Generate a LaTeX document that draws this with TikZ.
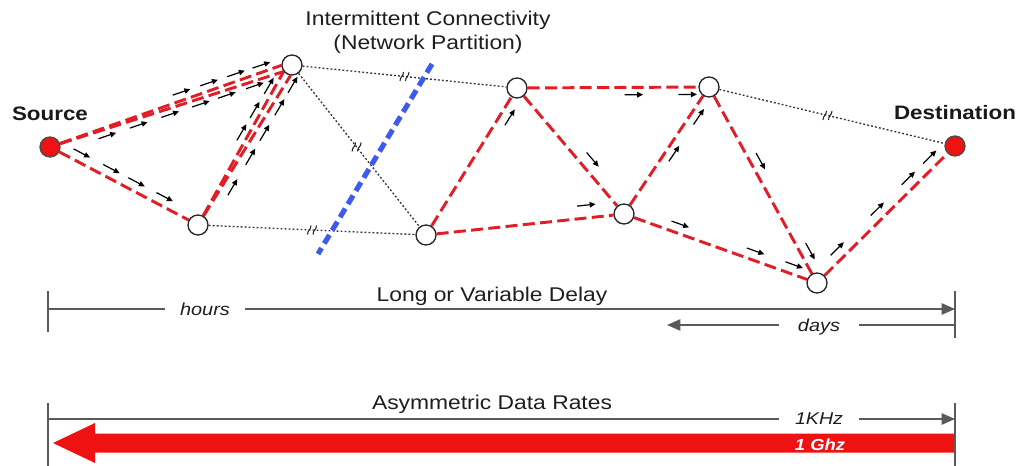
\documentclass[tikz,border=0pt]{standalone}
\usepackage{fontspec}
\setmainfont[FakeStretch=1.15]{Liberation Sans}
\usetikzlibrary{calc,arrows.meta}

\definecolor{linkred}{RGB}{225,30,38}
\definecolor{nodered}{RGB}{238,18,18}
\definecolor{cutblue}{RGB}{60,90,235}
\definecolor{axisgray}{RGB}{90,90,90}
\definecolor{labelink}{RGB}{30,30,30}

\pgfdeclarelayer{links}
\pgfsetlayers{links,main}

\tikzset{
  relay/.style={circle,draw=black!85,line width=1pt,fill=white,minimum size=15pt,inner sep=0pt},
  endpoint/.style={relay,fill=nodered,draw=black!70},
  hop/.style={draw=linkred,line width=2.2pt,dash pattern=on 9pt off 4pt},
  lost/.style={draw=black!80,line width=1pt,dash pattern=on 1.4pt off 1.6pt},
  flowtip/.style={-{Triangle[length=4.5pt,width=4pt]},line width=0.9pt,black},
  cutline/.style={draw=cutblue,line width=3.8pt,dash pattern=on 7.5pt off 4pt},
  timeline/.style={draw=axisgray,line width=1.1pt},
  timetip/.style={-{Triangle[length=10pt,width=8.5pt]},draw=axisgray},
  brk/.pic={\draw[black!85,line width=0.8pt] (-4.5,4.5) .. controls (-4.5,0) and (-1,0) .. (-1,-4.5)
                                           (1,4.5) .. controls (1,0) and (4.5,0) .. (4.5,-4.5);},
  lblbold/.style={font=\fontsize{14.6}{17}\selectfont\bfseries,text=black!90,inner sep=0pt},
  lblmain/.style={font=\fontsize{14.9}{17}\selectfont,text=labelink,inner sep=0pt},
  lblunit/.style={font=\fontsize{13}{15}\selectfont\itshape,text=labelink,fill=white,inner ysep=1pt},
}

% small traffic arrows beside a link: from, to, side offset, list of positions
\newcommand\flowmarks[4]{%
  \foreach \fr in {#4}{%
    \path ($(#1)!\fr!(#2)$) coordinate (fp);
    \path ($(fp)!#3!90:(#2)$) coordinate (fq);
    \path ($(#1)!14pt!(#2)$) coordinate (fu);
    \draw[flowtip] (fq) -- ($(fq)+(fu)-(#1)$);
  }}

\begin{document}
\begin{tikzpicture}[x=0.75pt,y=-0.75pt]
\useasboundingbox (0,0) rectangle (1020,466);

% network nodes
\node[endpoint] (S) at (50,147) {};
\node[relay] (A) at (198,225) {};
\node[relay] (B) at (292,65) {};
\node[relay] (C) at (426,235) {};
\node[relay] (D) at (517,88) {};
\node[relay] (E) at (624,214) {};
\node[relay] (F) at (709,87) {};
\node[relay] (G) at (817,283) {};
\node[endpoint] (T) at (955,146) {};

\begin{pgfonlayer}{links}
  % two paths into B that meet at the far end
  \draw[hop] (S) -- (B.182);
  \draw[hop] (S) -- (B.218);
  \draw[hop] (A) -- (B.218);
  \draw[hop] (A) -- (B.262);
  % single links
  \draw[hop] (S) -- (A);
  \draw[hop] (C) -- (D);
  \draw[hop] (C) -- (E);
  \draw[hop] (D) -- (E);
  \draw[hop] (D) -- (F);
  \draw[hop] (E) -- (F);
  \draw[hop] (E) -- (G);
  \draw[hop] (F) -- (G);
  \draw[hop] (G) -- (T);
  % broken links
  \draw[lost] (B) -- (D) coordinate[pos=0.5] (m1);
  \draw[lost] (B) -- (C) coordinate[pos=0.48] (m2);
  \draw[lost] (A) -- (C) coordinate[pos=0.5] (m3);
  \draw[lost] (F) -- (T) coordinate[pos=0.48] (m4);
\end{pgfonlayer}

\foreach \m in {m1,m2,m3,m4} \pic at (\m) {brk};

% partition line
\coordinate (cutTop) at (432,64);
\coordinate (cutBot) at (318,254);
\draw[cutline] (cutTop) -- (cutBot);

% traffic
\flowmarks{S}{B}{7.3pt}{0.52,0.634,0.745,0.85}
\flowmarks{S}{B}{-5.8pt}{0.19,0.32,0.45,0.577,0.684,0.80}
\flowmarks{S}{A}{7pt}{0.13,0.33,0.5,0.69}
\flowmarks{A}{B}{7pt}{0.5,0.64,0.79}
\flowmarks{A}{B}{-8pt}{0.22,0.41,0.56,0.72,0.86}
\flowmarks{C}{D}{-7pt}{0.78}
\flowmarks{D}{F}{-5.5pt}{0.56,0.84}
\flowmarks{D}{E}{8.5pt}{0.57}
\flowmarks{C}{E}{9.6pt}{0.77}
\flowmarks{E}{F}{-6pt}{0.45,0.74}
\flowmarks{E}{G}{7pt}{0.23,0.62,0.82}
\flowmarks{F}{G}{7pt}{0.36,0.82}
\flowmarks{G}{T}{7.5pt}{0.15,0.44,0.665,0.82}

% labels
\node[lblbold,anchor=base] (src) at (50,121) {Source};
\node[lblbold,anchor=base] (dst) at (955,120) {Destination};
\node[lblmain,anchor=base] (ic1) at (428,26) {Intermittent Connectivity};
\node[lblmain,anchor=base] (ic2) at (428,50) {(Network Partition)};

% delay scale
\coordinate (dL1) at (48,291);
\coordinate (dL2) at (48,332);
\coordinate (dR1) at (955,291);
\coordinate (dR2) at (955,338);
\coordinate (dStart) at (48,309);
\coordinate (dEnd) at (955,309);
\coordinate (dRight) at (955,325);
\coordinate (dTip) at (667,325);
\draw[timeline] (dL1) -- (dL2);
\draw[timeline] (dR1) -- (dR2);
\draw[timeline,timetip] (dStart) -- (dEnd);
\draw[timeline,timetip] (dRight) -- (dTip);
\node[lblunit,inner xsep=11pt] (hours) at (205,309) {hours};
\node[lblunit,inner xsep=14pt] (days) at (819,327) {days};
\node[lblmain,anchor=base] (lvd) at (492,302) {Long or Variable Delay};

% data rate scale
\fill[nodered] (955,433.5) -- (95,433.5) -- (95,423) -- (53,443) -- (95,463) -- (95,452.5) -- (955,452.5) -- cycle;
\coordinate (rL1) at (48,403);
\coordinate (rL2) at (48,466);
\coordinate (rR1) at (955,403);
\coordinate (rR2) at (955,466);
\coordinate (rStart) at (48,419);
\coordinate (rEnd) at (955,419);
\draw[timeline] (rL1) -- (rL2);
\draw[timeline] (rR1) -- (rR2);
\draw[timeline,timetip] (rStart) -- (rEnd);
\node[lblunit,inner xsep=12pt,font=\fontsize{12.8}{15}\selectfont\itshape] (khz) at (819,419) {1KHz};
\node[font=\fontsize{12}{14}\selectfont\bfseries\itshape,text=white,inner sep=0pt] (ghz) at (820,445) {1 Ghz};
\node[lblmain,anchor=base] (adr) at (492,409) {Asymmetric Data Rates};
\end{tikzpicture}
\end{document}
